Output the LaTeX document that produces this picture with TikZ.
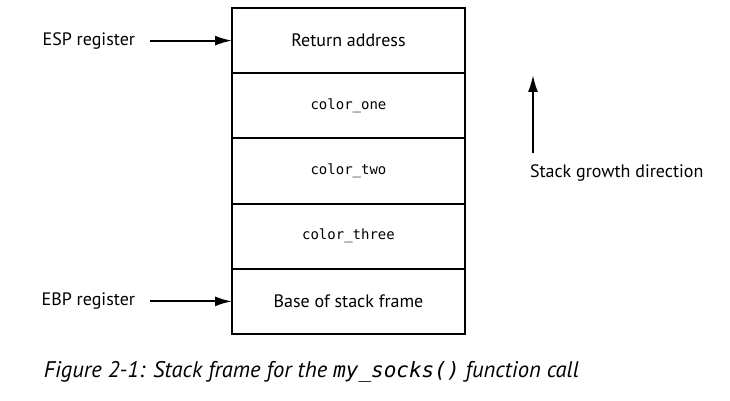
\documentclass[tikz,border=0pt]{standalone}
\usepackage{fontspec}
\setmainfont{PT Sans}
\setmonofont{DejaVu Sans Mono}
\usetikzlibrary{positioning,arrows.meta}

\begin{document}
\begin{tikzpicture}[
                            x=0.5pt,
                            y=-0.5pt,
                            >={Latex[length=8.5pt,width=5pt]},
                            node distance=0pt,
                            line width=1pt
                        ]

                        \tikzstyle{slot}=[draw,outer sep=0pt,minimum width=116.5pt,minimum height=32.6pt,inner sep=0pt,font=\fontsize{9}{11}\selectfont]
                        \tikzstyle{var}=[font=\fontsize{7}{9}\selectfont\ttfamily]
                        \tikzstyle{reg}=[inner sep=0pt,font=\fontsize{9}{11}\selectfont]
                        \tikzstyle{ptr}=[->,shorten <=7pt]

                        \useasboundingbox (0,0) rectangle (730,401);

                        \node[slot]     (ret)   at (348.5,40.6) {Return address};
                        \node[slot,var] (one)   [below=of ret]   {color\_one};
                        \node[slot,var] (two)   [below=of one]   {color\_two};
                        \node[slot,var] (three) [below=of two]   {color\_three};
                        \node[slot]     (base)  [below=of three] {Base of stack frame};

                        \node[reg] (esp) [left=48pt of ret]  {ESP register};
                        \node[reg] (ebp) [left=48pt of base] {EBP register};

                        \node[reg,anchor=west] (growth) at (529,173) {Stack growth direction};
                        \coordinate (gfoot) at (533,153);
                        \coordinate (gtip)  at (533,75);

                        \node[inner sep=0pt,anchor=west,font=\fontsize{11.3}{14}\selectfont\itshape] (caption) at (43,372)
                            {Figure 2-1: Stack frame for the {\fontsize{10.5}{14}\selectfont\ttfamily my\_socks()} function call};

                        \path
                        (esp)   edge [ptr] (ret)
                        (ebp)   edge [ptr] (base)
                        (gfoot) edge [->]  (gtip)
                        ;
                    \end{tikzpicture}
\end{document}
